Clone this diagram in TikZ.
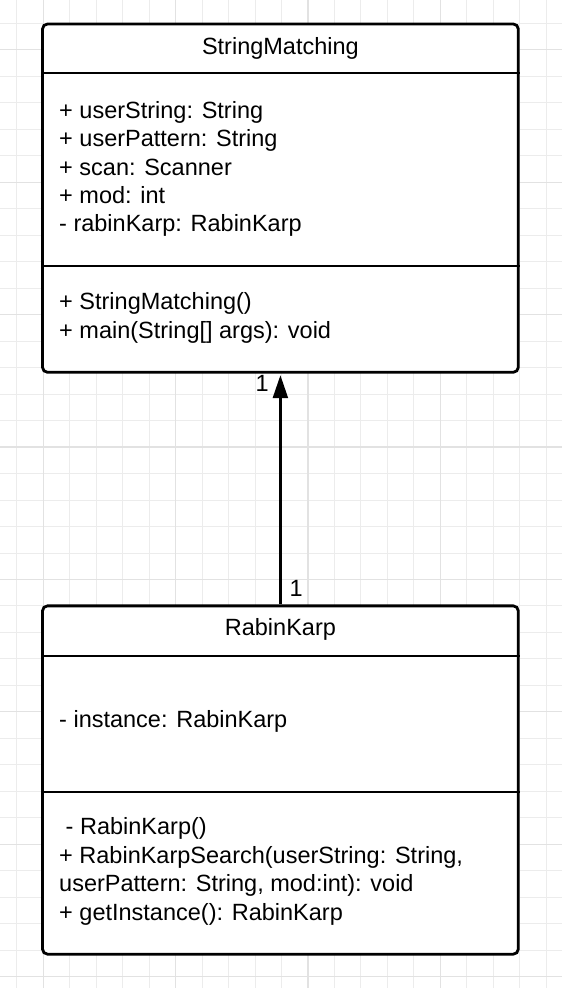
\documentclass[tikz,border=0pt]{standalone}
\usepackage{fontspec}
\setmainfont{Liberation Sans}
\usetikzlibrary{positioning, arrows.meta}
\definecolor{gridminor}{RGB}{236, 236, 236}
\definecolor{gridmajor}{RGB}{226, 226, 226}

\begin{document}
\begin{tikzpicture}[x=1pt, y=-1pt,
        classbox/.style={draw, line width=2.8pt, rounded corners=5pt, fill=white,
              minimum width=475.8pt, minimum height=348.3pt, inner sep=0pt},
        divider/.style={line width=2.8pt},
        umltext/.style={font=\fontsize{23.5}{28.35}\selectfont, inner sep=0pt, align=left},
        assoc/.style={line width=2.4pt, shorten >=1.5pt, -{Triangle[length=23pt, width=15pt]}}]
        \useasboundingbox[fill=white] (0,0) rectangle (562,988);
        \foreach \k in {0,...,20}
            \draw[gridminor, line width=1pt] (16.7+26.48*\k, 0) -- (16.7+26.48*\k, 988);
        \foreach \k in {0,...,36}
            \draw[gridminor, line width=1pt] (0, 23.4+26.48*\k) -- (562, 23.4+26.48*\k);
        \foreach \k in {1,6,11,16}
            \draw[gridmajor, line width=1.2pt] (16.7+26.48*\k, 0) -- (16.7+26.48*\k, 988);
        \foreach \k in {1,6,...,36}
            \draw[gridmajor, line width=1.2pt] (0, 23.4+26.48*\k) -- (562, 23.4+26.48*\k);

        \node[classbox] (stringmatching) at (280.4, 198.15) {};
        \draw[divider] (stringmatching.west |- 0,73) -- (stringmatching.east |- 0,73);
        \draw[divider] (stringmatching.west |- 0,266) -- (stringmatching.east |- 0,266);
        \node[umltext, anchor=base] (stringmatchingname) at (280.4, 54) {StringMatching};
        \node[umltext, anchor=base west] (stringmatchingattrs) at (59, 231.7) {
            + userString: String\\
            + userPattern: String\\
            + scan: Scanner\\
            + mod: int\\
            - rabinKarp: RabinKarp};
        \node[umltext, anchor=base west] (stringmatchingops) at (59, 338.3) {
            + StringMatching()\\
            + main(String[] args): void};

        \node[classbox] (rabinkarp) at (280.4, 780) {};
        \draw[divider] (rabinkarp.west |- 0,656) -- (rabinkarp.east |- 0,656);
        \draw[divider] (rabinkarp.west |- 0,792) -- (rabinkarp.east |- 0,792);
        \node[umltext, anchor=base] (rabinkarpname) at (280.4, 635) {RabinKarp};
        \node[umltext, anchor=base west] (rabinkarpattrs) at (59, 727.3) {- instance: RabinKarp};
        \node[umltext, anchor=base west] (rabinkarpops) at (59, 920) {
            \ - RabinKarp()\\
            + RabinKarpSearch(userString: String,\\
            userPattern: String, mod:int): void\\
            + getInstance(): RabinKarp};

        \draw[assoc] (rabinkarp.north) -- (stringmatching.south);
        \node[umltext, anchor=base east] (stringmatchingmult) at (269, 391.7) {1};
        \node[umltext, anchor=base west] (rabinkarpmult) at (289.5, 596) {1};
    \end{tikzpicture}
\end{document}
